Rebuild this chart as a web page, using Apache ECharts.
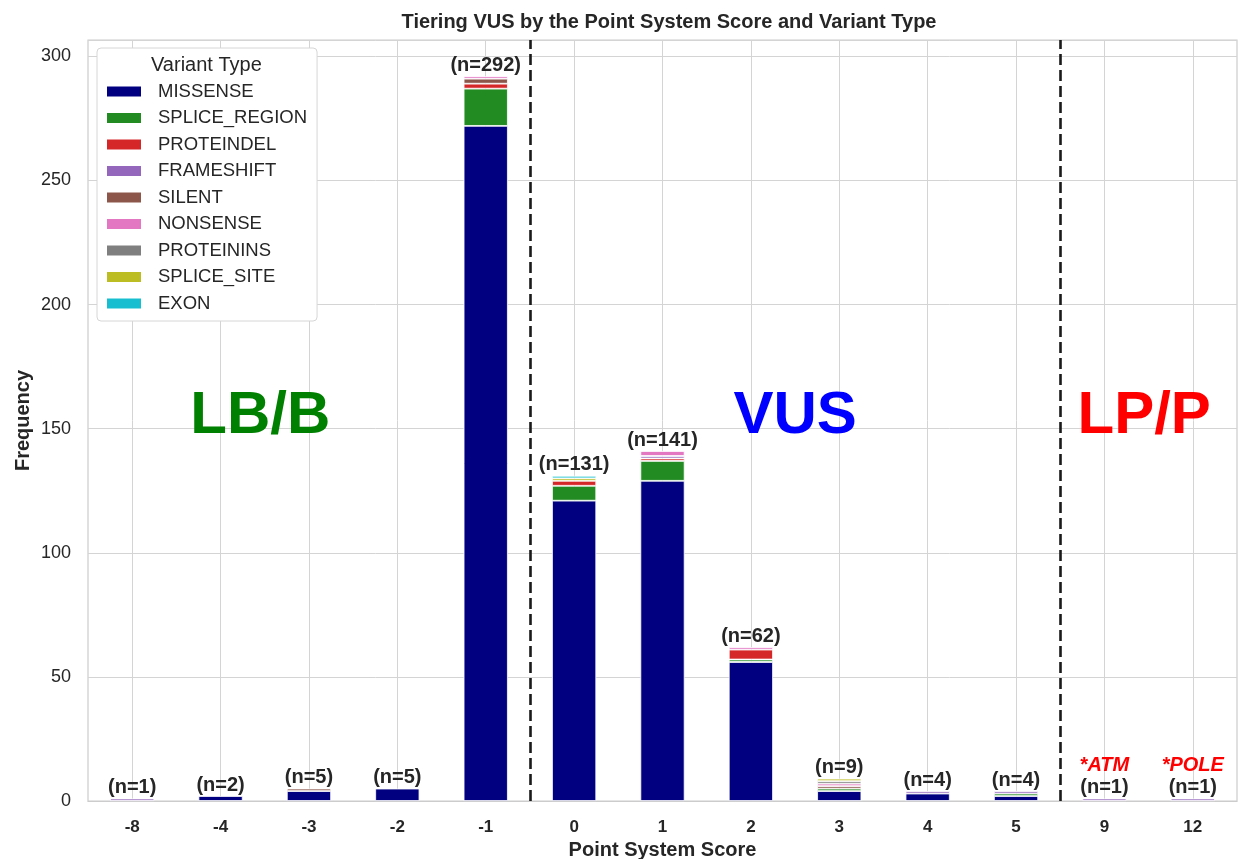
<!DOCTYPE html>
<html>
<head>
<meta charset="utf-8">
<script src="https://cdn.jsdelivr.net/npm/echarts@6/dist/echarts.min.js"></script>
<style>
  html, body { margin: 0; padding: 0; background: #fff; }
  #chart { width: 1238px; height: 859px; }
</style>
</head>
<body>
<div id="chart"></div>
<script>
var categories = ['-8', '-4', '-3', '-2', '-1', '0', '1', '2', '3', '4', '5', '9', '12'];
var missense     = [0, 2, 4, 5, 272, 121, 129, 56, 4, 3, 2, 0, 0];
var spliceRegion = [0, 0, 0, 0, 15, 6, 8, 1, 1, 0, 1, 0, 0];
var proteindel   = [0, 0, 0, 0, 2, 2, 1, 4, 0, 0, 0, 0, 0];
var frameshift   = [1, 0, 0, 0, 0, 0, 1, 0, 0, 1, 1, 1, 1];
var silent       = [0, 0, 1, 0, 2, 0, 0, 0, 1, 0, 0, 0, 0];
var nonsense     = [0, 0, 0, 0, 1, 0, 2, 1, 1, 0, 0, 0, 0];
var proteinins   = [0, 0, 0, 0, 0, 0, 0, 0, 1, 0, 0, 0, 0];
var spliceSite   = [0, 0, 0, 0, 0, 1, 0, 0, 1, 0, 0, 0, 0];
var exon         = [0, 0, 0, 0, 0, 1, 0, 0, 0, 0, 0, 0, 0];
var geneNotes    = ['', '', '', '', '', '', '', '', '', '', '', '*ATM', '*POLE'];

var typeNames = ['MISSENSE', 'SPLICE_REGION', 'PROTEINDEL', 'FRAMESHIFT', 'SILENT',
                 'NONSENSE', 'PROTEININS', 'SPLICE_SITE', 'EXON'];
var typeColors = ['#000080', '#228b22', '#d62728', '#9467bd', '#8c564b',
                  '#e377c2', '#7f7f7f', '#bcbd22', '#17becf'];
var typeData = [missense, spliceRegion, proteindel, frameshift, silent,
                nonsense, proteinins, spliceSite, exon];

// tier regions, placed between categories (index units)
var regionNames  = ['LB/B', 'VUS', 'LP/P'];
var regionX      = [1.45, 7.5, 11.45];
var regionY      = 155;
var regionColors = ['#008000', '#0000ff', '#ff0000'];
var cutoffs      = [4.5, 10.5];

var txt = '#262626';
var font = 'Liberation Sans, Arial, sans-serif';

var totals = categories.map(function (c, i) {
  var s = 0;
  for (var k = 0; k < typeData.length; k++) s += typeData[k][i];
  return s;
});

var chart = echarts.init(document.getElementById('chart'));

var series = [];
for (var k = 0; k < typeNames.length; k++) {
  series.push({
    name: typeNames[k],
    type: 'bar',
    stack: 'all',
    barWidth: '50%',
    z: 3,
    itemStyle: { color: typeColors[k], borderColor: '#ffffff', borderWidth: 0.8 },
    data: typeData[k].map(function (v) { return v === 0 ? '-' : v; })
  });
}

// vertical grid lines at category centres
series.push({
  name: 'vgrid',
  type: 'scatter',
  xAxisIndex: 1,
  silent: true,
  z: 1,
  data: [],
  markLine: {
    silent: true,
    z: 1,
    symbol: 'none',
    animation: false,
    label: { show: false },
    lineStyle: { color: '#d4d4d4', width: 1, type: 'solid' },
    data: categories.map(function (c, i) { return { xAxis: i }; })
  }
});

// cut-off dashed lines
series.push({
  name: 'cutoff',
  type: 'scatter',
  xAxisIndex: 1,
  silent: true,
  z: 5,
  data: [],
  markLine: {
    silent: true,
    z: 5,
    symbol: 'none',
    label: { show: false },
    lineStyle: { color: '#1a1a1a', width: 2.6, type: [11, 5] },
    data: cutoffs.map(function (v) { return { xAxis: v }; })
  }
});

// n labels
series.push({
  name: 'totals',
  type: 'scatter',
  xAxisIndex: 1,
  symbolSize: 0,
  silent: true,
  z: 6,
  itemStyle: { opacity: 1 },
  data: totals.map(function (t, i) { return [i, t]; }),
  label: {
    show: true,
    position: 'top',
    distance: 0,
    formatter: function (p) {
      var i = p.dataIndex;
      var s = '{n|(n=' + totals[i] + ')}';
      if (geneNotes[i]) s = '{r|' + geneNotes[i] + '}\n' + s;
      return s;
    },
    rich: {
      n: { fontSize: 20, fontWeight: 'bold', color: txt, fontFamily: font, lineHeight: 22 },
      r: { fontSize: 20, fontWeight: 'bold', fontStyle: 'italic', color: '#ff0000', fontFamily: font, lineHeight: 22 }
    }
  }
});

// tier region labels
series.push({
  name: 'regions',
  type: 'scatter',
  xAxisIndex: 1,
  symbolSize: 0,
  silent: true,
  z: 6,
  itemStyle: { opacity: 1 },
  data: regionNames.map(function (n, i) {
    return {
      value: [regionX[i], regionY],
      label: { color: regionColors[i] }
    };
  }),
  label: {
    show: true,
    position: 'inside',
    fontSize: 60,
    fontWeight: 'bold',
    fontFamily: font,
    formatter: function (p) { return regionNames[p.dataIndex]; }
  }
});

var option = {
  animation: false,
  backgroundColor: '#ffffff',
  textStyle: { fontFamily: font },
  title: {
    text: 'Tiering VUS by the Point System Score and Variant Type',
    left: 664,
    textAlign: 'center',
    top: 7,
    textStyle: { fontSize: 20, fontWeight: 'bold', color: txt, fontFamily: font }
  },
  legend: {
    data: typeNames,
    orient: 'vertical',
    left: 97,
    top: 48,
    padding: [34, 10, 8, 8],
    itemWidth: 36,
    itemHeight: 12,
    itemGap: 7.5,
    icon: 'rect',
    backgroundColor: '#ffffff',
    borderColor: '#d6d6d6',
    borderWidth: 1,
    borderRadius: 4,
    textStyle: { fontSize: 18.5, color: txt, fontFamily: font, padding: [0, 0, 0, 11] },
    z: 10
  },
  graphic: [{
    type: 'text',
    left: 151,
    top: 55,
    z: 100,
    style: { text: 'Variant Type', fontSize: 20, fill: txt, fontFamily: font }
  }],
  grid: {
    left: 88, right: 1, top: 40, bottom: 58,
    outerBoundsMode: 'none',
    containLabel: false,
    show: true,
    borderColor: '#cccccc',
    borderWidth: 1.2
  },
  xAxis: [{
    type: 'category',
    data: categories,
    name: 'Point System Score',
    nameLocation: 'middle',
    nameGap: 39,
    nameTextStyle: { fontSize: 20, fontWeight: 'bold', color: txt, fontFamily: font },
    axisTick: { show: false },
    axisLine: { lineStyle: { color: '#cccccc', width: 1.2 } },
    axisLabel: { fontSize: 17, fontWeight: 'bold', color: txt, margin: 18, fontFamily: font },
    splitLine: { show: false }
  }, {
    type: 'value',
    min: -0.5,
    max: 12.5,
    show: false,
    splitLine: { show: false }
  }],
  yAxis: {
    type: 'value',
    min: 0,
    max: 306.6,
    interval: 50,
    name: 'Frequency',
    nameLocation: 'middle',
    nameGap: 55,
    nameMoveOverlap: false,
    nameTextStyle: { fontSize: 20, fontWeight: 'bold', color: txt, fontFamily: font },
    axisLine: { show: false },
    axisTick: { show: false },
    axisLabel: { fontSize: 18, color: txt, margin: 17, fontFamily: font, showMaxLabel: false },
    splitLine: { lineStyle: { color: '#d4d4d4', width: 1 } }
  },
  series: series
};

chart.setOption(option);
</script>
</body>
</html>
